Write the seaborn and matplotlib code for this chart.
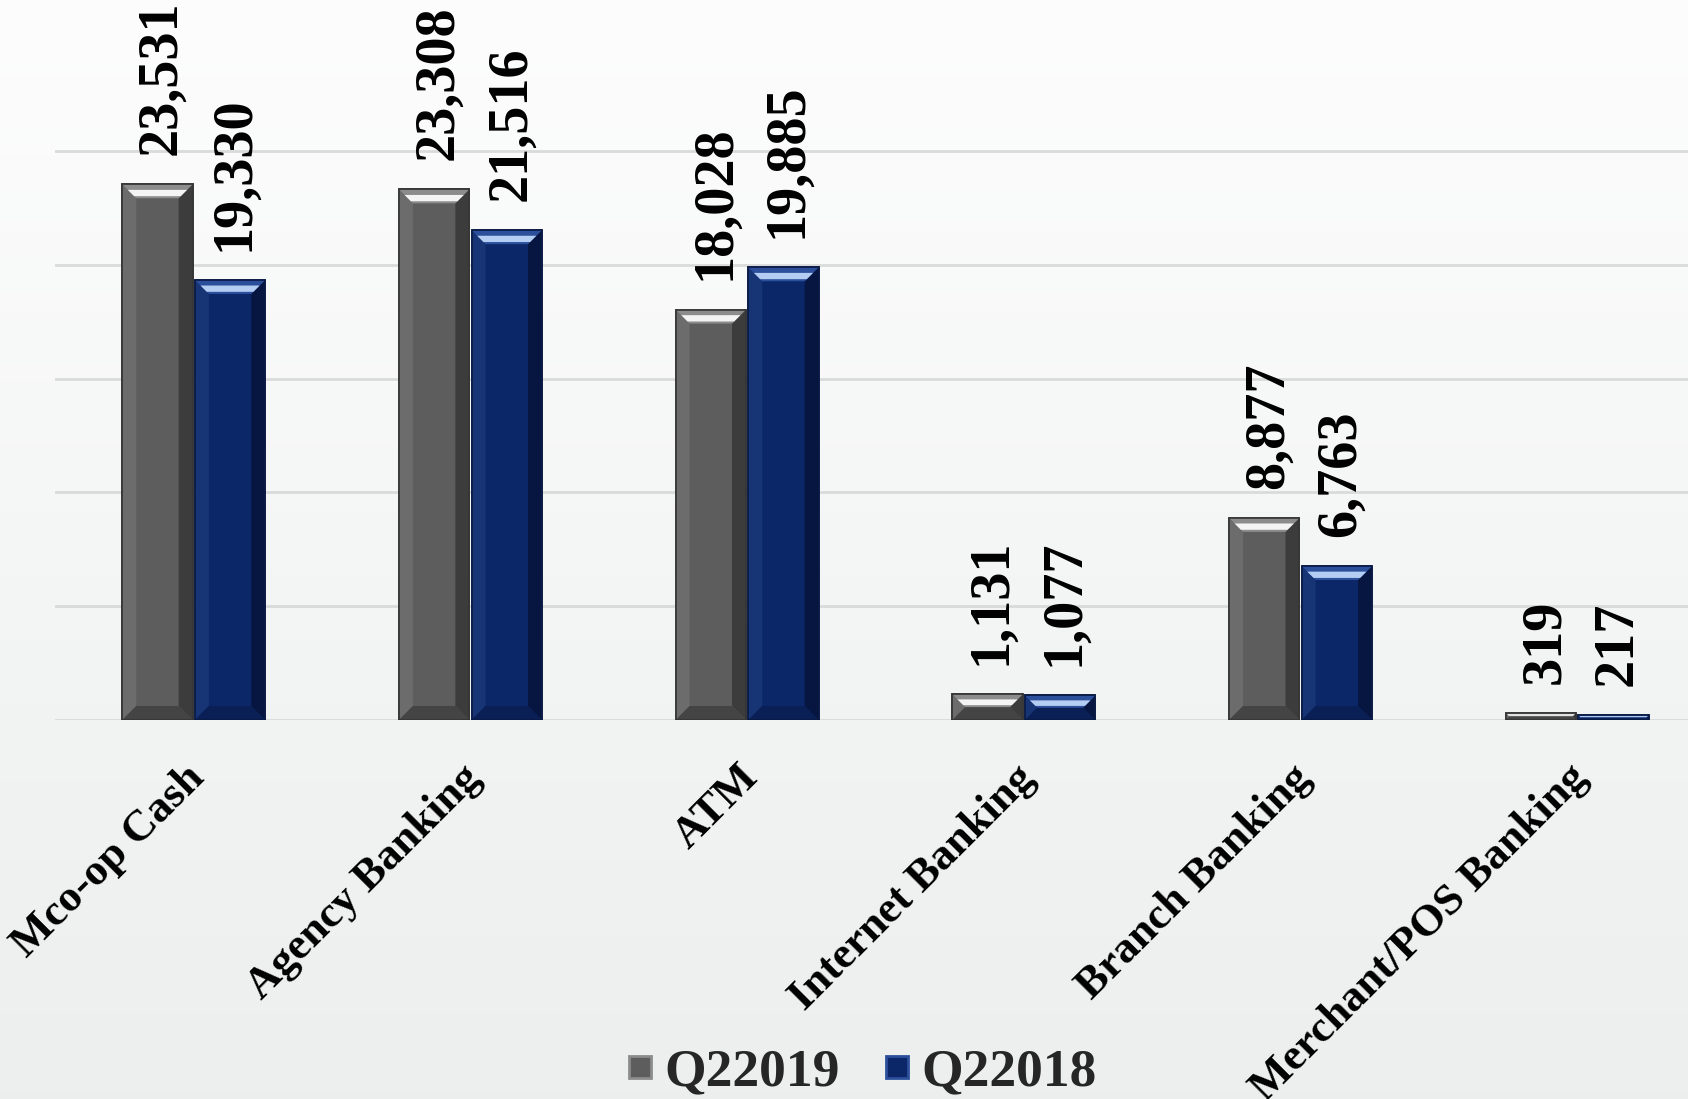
import numpy as np
import pandas as pd
import matplotlib
matplotlib.use("Agg")
import matplotlib.pyplot as plt
from matplotlib.patches import Polygon
from matplotlib.transforms import IdentityTransform, ScaledTranslation
from matplotlib.lines import Line2D
import seaborn as sns

categories = ["Mco-op Cash", "Agency Banking", "ATM", "Internet Banking",
              "Branch Banking", "Merchant/POS Banking"]
series = ["Q22019", "Q22018"]
q2_2019 = [23531, 23308, 18028, 1131, 8877, 319]
q2_2018 = [19330, 21516, 19885, 1077, 6763, 217]
y_ticks = [0, 5000, 10000, 15000, 20000, 25000]

df = pd.DataFrame({
    "Channel": categories * 2,
    "Period": [series[0]] * len(categories) + [series[1]] * len(categories),
    "Value": q2_2019 + q2_2018,
})

sns.set_theme(style="white")
plt.rcParams["font.family"] = ["Liberation Serif", "DejaVu Serif"]
plt.rcParams["font.weight"] = "bold"

W, H = 1688, 1099
fig = plt.figure(figsize=(W / 100, H / 100), dpi=100)

# background gradient
bg = fig.add_axes([0, 0, 1, 1], zorder=-10)
grad = np.linspace(0, 1, 256).reshape(-1, 1)
top = np.array([0.992, 0.992, 0.992])
bot = np.array([0.925, 0.937, 0.933])
img = top[None, None, :] * (1 - grad[..., None]) + bot[None, None, :] * grad[..., None]
bg.imshow(img, aspect="auto", extent=[0, 1, 0, 1])
bg.set_axis_off()

ax = fig.add_axes([55.4 / W, 379 / H, (1715.6 - 55.4) / W, 683 / H])
ax.set_facecolor("none")

face = {"Q22019": "#5d5d5d", "Q22018": "#0b2767"}
sns.barplot(data=df, x="Channel", y="Value", hue="Period", order=categories,
            hue_order=series, palette=face, width=0.525, gap=0.03,
            saturation=1, ax=ax, legend=False, linewidth=1.2,
            edgecolor="#2e2e2e", zorder=3)

ax.set_ylim(0, 30000)
ax.set_xlim(-0.5, len(categories) - 0.5)
ax.set_yticks(y_ticks)
ax.set_yticklabels([])
ax.yaxis.grid(True, color="#d9dbdb", linewidth=2.0, zorder=0)
ax.xaxis.grid(False)
for s in ax.spines.values():
    s.set_visible(False)
ax.tick_params(axis="y", length=0)
ax.tick_params(axis="x", length=0, pad=27)
ax.set_xlabel("")
ax.set_ylabel("")
ax.set_xticks(range(len(categories)))
ax.set_xticklabels(categories, rotation=45, ha="right", va="top",
                   rotation_mode="anchor", fontsize=32, fontweight="bold",
                   color="black")
shift = ScaledTranslation(-7 / 72, 0, fig.dpi_scale_trans)
for lab in ax.get_xticklabels():
    lab.set_transform(lab.get_transform() + shift)

# bevel styling per series
bevel = {
    "Q22019": dict(edge="#353535", top="#8c8c8c", hi="#f4f4f4", left="#6c6c6c",
                   right="#3c3c3c", bottom="#444444"),
    "Q22018": dict(edge="#0a1a45", top="#2c4f9c", hi="#b4cdf2", left="#173574",
                   right="#061640", bottom="#0a1f55"),
}

fig.canvas.draw()
tr = ax.transData
for container, name, vals in zip(ax.containers, series, [q2_2019, q2_2018]):
    st = bevel[name]
    for p, v in zip(container.patches, vals):
        p.set_edgecolor(st["edge"])
        x0, y0 = tr.transform((p.get_x(), 0))
        x1, y1 = tr.transform((p.get_x() + p.get_width(), p.get_height()))
        w = x1 - x0
        h = y1 - y0
        b = min(14.0, h / 2.0, w / 2.0)
        polys = [
            ([(x0, y0), (x0 + b, y0 + b), (x0 + b, y1 - b), (x0, y1)], st["left"]),
            ([(x1, y0), (x1 - b, y0 + b), (x1 - b, y1 - b), (x1, y1)], st["right"]),
            ([(x0, y0), (x1, y0), (x1 - b, y0 + b), (x0 + b, y0 + b)], st["bottom"]),
            ([(x0, y1), (x1, y1), (x1 - b, y1 - b), (x0 + b, y1 - b)], st["top"]),
        ]
        f1, f2 = 0.40, 0.85
        polys.append(([(x0 + f1 * b, y1 - f1 * b), (x1 - f1 * b, y1 - f1 * b),
                       (x1 - f2 * b, y1 - f2 * b), (x0 + f2 * b, y1 - f2 * b)], st["hi"]))
        for pts, c in polys:
            ax.add_patch(Polygon(pts, closed=True, facecolor=c, edgecolor="none",
                                 transform=IdentityTransform(), zorder=4))
        ax.add_patch(Polygon([(x0, y0), (x1, y0), (x1, y1), (x0, y1)], closed=True,
                             facecolor="none", edgecolor=st["edge"], linewidth=1.2,
                             transform=IdentityTransform(), zorder=5))
        ax.annotate(f"{v:,}", xy=(p.get_x() + p.get_width() / 2, p.get_height()),
                    xytext=(3, 21), textcoords="offset points", rotation=90,
                    ha="center", va="bottom", fontsize=40.5, fontweight="bold",
                    color="black", annotation_clip=False, zorder=6)

handles = [Line2D([0], [0], marker="s", linestyle="none", markersize=16.5,
                  markerfacecolor=face[s], markeredgecolor=bevel[s]["top"],
                  markeredgewidth=2.0) for s in series]
fig.legend(handles, series, loc="center", bbox_to_anchor=(0.508, 0.024),
           ncol=2, frameon=False, handletextpad=0.05,
           columnspacing=0.68, handlelength=0.8,
           prop={"family": ["Liberation Serif"], "weight": "bold", "size": 38.5})

fig.savefig("out.png", dpi=100)
